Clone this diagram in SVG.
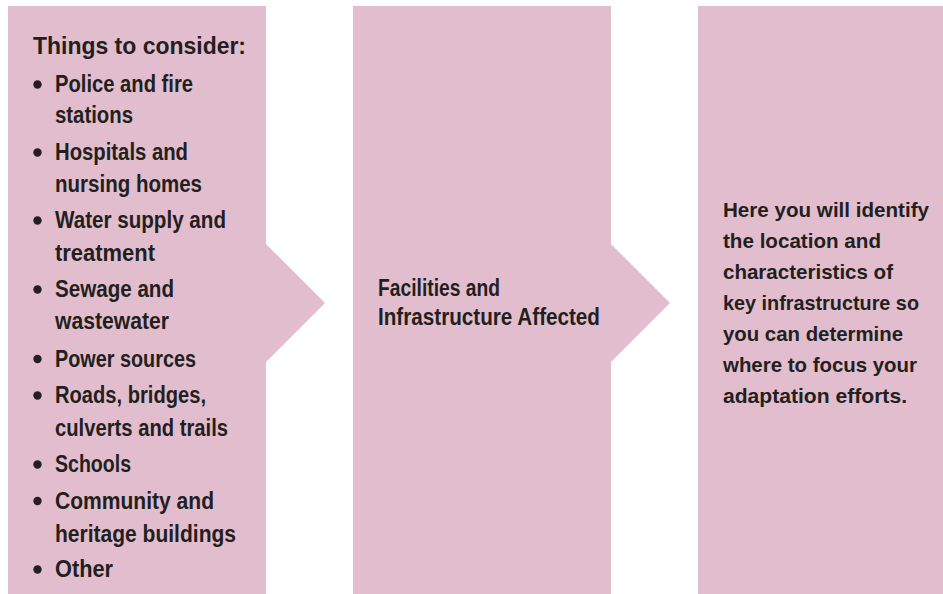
<svg xmlns="http://www.w3.org/2000/svg" width="943" height="594" viewBox="0 0 943 594">
<style>
.box{fill:#e1bdcd;stroke:none}
.t{font-family:"Liberation Sans",Arial,sans-serif;font-weight:bold;font-size:23px;fill:#231f20}
.r{font-size:21px}
.b{fill:#231f20}
</style>
<rect width="943" height="594" fill="#ffffff"/>
<g id="connectors"></g>
<g id="node-considerations">
<polygon class="box" points="8,6 266,6 266,244 325,303 266,362 266,594 8,594"/>
<text class="t" x="33" y="54" textLength="213" lengthAdjust="spacingAndGlyphs">Things to consider:</text>
<g class="b">
<circle cx="37.5" cy="84.5" r="4.2"/>
<circle cx="37.5" cy="152.5" r="4.2"/>
<circle cx="37.5" cy="220.5" r="4.2"/>
<circle cx="37.5" cy="289.5" r="4.2"/>
<circle cx="37.5" cy="359" r="4.2"/>
<circle cx="37.5" cy="395.5" r="4.2"/>
<circle cx="37.5" cy="464.5" r="4.2"/>
<circle cx="37.5" cy="501" r="4.2"/>
<circle cx="37.5" cy="569.5" r="4.2"/>
</g>
<text class="t" x="55" y="92" textLength="138" lengthAdjust="spacingAndGlyphs">Police and fire</text>
<text class="t" x="55" y="123" textLength="78" lengthAdjust="spacingAndGlyphs">stations</text>
<text class="t" x="55" y="160" textLength="133" lengthAdjust="spacingAndGlyphs">Hospitals and</text>
<text class="t" x="55" y="192" textLength="147" lengthAdjust="spacingAndGlyphs">nursing homes</text>
<text class="t" x="55" y="228" textLength="171" lengthAdjust="spacingAndGlyphs">Water supply and</text>
<text class="t" x="55" y="261" textLength="100" lengthAdjust="spacingAndGlyphs">treatment</text>
<text class="t" x="55" y="297" textLength="119" lengthAdjust="spacingAndGlyphs">Sewage and</text>
<text class="t" x="55" y="329" textLength="114" lengthAdjust="spacingAndGlyphs">wastewater</text>
<text class="t" x="55" y="367" textLength="141" lengthAdjust="spacingAndGlyphs">Power sources</text>
<text class="t" x="55" y="403" textLength="151" lengthAdjust="spacingAndGlyphs">Roads, bridges,</text>
<text class="t" x="55" y="436" textLength="173" lengthAdjust="spacingAndGlyphs">culverts and trails</text>
<text class="t" x="55" y="472" textLength="76" lengthAdjust="spacingAndGlyphs">Schools</text>
<text class="t" x="55" y="509" textLength="159" lengthAdjust="spacingAndGlyphs">Community and</text>
<text class="t" x="55" y="542" textLength="181" lengthAdjust="spacingAndGlyphs">heritage buildings</text>
<text class="t" x="55" y="577" textLength="58" lengthAdjust="spacingAndGlyphs">Other</text>
</g>
<g id="node-facilities">
<polygon class="box" points="353,6 611,6 611,244 670,303 611,362 611,594 353,594"/>
<text class="t" x="378" y="296" textLength="122" lengthAdjust="spacingAndGlyphs">Facilities and</text>
<text class="t" x="378" y="325" textLength="222" lengthAdjust="spacingAndGlyphs">Infrastructure Affected</text>
</g>
<g id="node-description">
<rect class="box" x="698" y="6" width="245" height="588"/>
<text class="t r" x="723" y="217" textLength="206" lengthAdjust="spacingAndGlyphs">Here you will identify</text>
<text class="t r" x="723" y="248" textLength="158" lengthAdjust="spacingAndGlyphs">the location and</text>
<text class="t r" x="723" y="279" textLength="170" lengthAdjust="spacingAndGlyphs">characteristics of</text>
<text class="t r" x="723" y="310" textLength="196" lengthAdjust="spacingAndGlyphs">key infrastructure so</text>
<text class="t r" x="723" y="341" textLength="180" lengthAdjust="spacingAndGlyphs">you can determine</text>
<text class="t r" x="723" y="372" textLength="194" lengthAdjust="spacingAndGlyphs">where to focus your</text>
<text class="t r" x="723" y="403" textLength="184" lengthAdjust="spacingAndGlyphs">adaptation efforts.</text>
</g>
</svg>
